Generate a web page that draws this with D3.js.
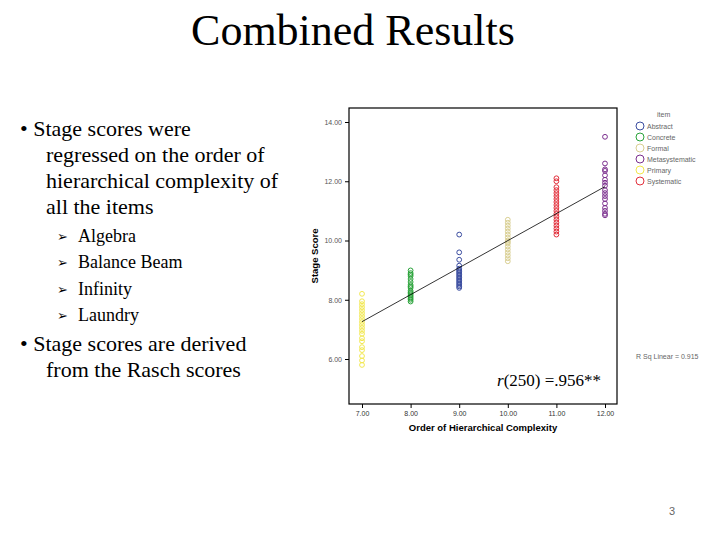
<!DOCTYPE html>
<html><head><meta charset="utf-8">
<script src="https://cdn.jsdelivr.net/npm/d3@7"></script>
<style>body{margin:0;background:#fff}</style></head>
<body><svg id="c" width="720" height="540"></svg>
<script>
const categories = ["Abstract","Concrete","Formal","Metasystematic","Primary","Systematic"];
const colors = ["#3b4da0","#2aa33a","#d9cf92","#7b2f8e","#f2e84e","#e2303c"];
const orders = [9,8,10,12,7,11];
const abstractVals = [10.2,9.6,9.35,9.15,9.05,9.0,8.95,8.9,8.85,8.8,8.75,8.7,8.65,8.6,8.55,8.5,8.45,8.4];
const concreteVals = [8.99,8.9,8.85,8.8,8.7,8.6,8.5,8.45,8.4,8.3,8.25,8.2,8.15,8.1,8.05,8.0,7.94];
const formalVals = [10.7,10.6,10.5,10.4,10.3,10.2,10.1,10.0,9.95,9.9,9.8,9.7,9.6,9.5,9.4,9.3];
const metaVals = [13.5,12.6,12.4,12.35,12.2,12.05,11.95,11.85,11.7,11.6,11.5,11.4,11.25,11.1,11.0,10.9,10.85];
const primaryVals = [8.2,7.95,7.85,7.75,7.65,7.55,7.45,7.35,7.25,7.15,7.05,6.95,6.85,6.7,6.6,6.4,6.3,6.1,5.95,5.8];
const systematicVals = [12.1,12.0,11.8,11.7,11.6,11.5,11.4,11.3,11.2,11.1,11.0,10.9,10.8,10.7,10.6,10.5,10.4,10.3,10.2];
const seriesVals = [abstractVals,concreteVals,formalVals,metaVals,primaryVals,systematicVals];
const xTicks = [7,8,9,10,11,12];
const yTicks = [6,8,10,12,14];
const fit = [[7,7.26],[12,11.82]];

const svg = d3.select("#c");
const serif = "'Liberation Serif','Times New Roman',serif";
const sans = "'Liberation Sans',Arial,sans-serif";
svg.append("text").attr("x",353).attr("y",45).attr("text-anchor","middle")
  .attr("font-family",serif).attr("font-size",44).text("Combined Results");
const lines = [
 {t:"• Stage scores were",x:20,y:136,s:22},
 {t:"regressed on the order of",x:46,y:162,s:22},
 {t:"hierarchical complexity of",x:46,y:188,s:22},
 {t:"all the items",x:46,y:214,s:22},
 {t:"• Stage scores are derived",x:20,y:351,s:22},
 {t:"from the Rasch scores",x:46,y:377,s:22}];
lines.forEach(l=>svg.append("text").attr("x",l.x).attr("y",l.y).attr("font-family",serif).attr("font-size",l.s).text(l.t));
["Algebra","Balance Beam","Infinity","Laundry"].forEach((t,i)=>{
  svg.append("text").attr("x",57).attr("y",241+i*26.3).attr("font-family","'DejaVu Sans'").attr("font-size",13).text("➢");
  svg.append("text").attr("x",78).attr("y",242+i*26.3).attr("font-family",serif).attr("font-size",18).text(t);
});

const x = d3.scaleLinear().domain([7,12]).range([362,605]);
const y = d3.scaleLinear().domain([6,14]).range([359,122]);
const L=349,R=617,T=108,B=404;
svg.append("rect").attr("x",L).attr("y",T).attr("width",R-L).attr("height",B-T).attr("fill","none").attr("stroke","#000").attr("stroke-width",1.2);
const xa = svg.append("g").attr("transform",`translate(0,${B})`)
  .call(d3.axisBottom(x).tickValues(xTicks).tickFormat(d3.format(".2f")).tickSize(4));
xa.select(".domain").remove();
xa.selectAll("text").attr("font-family",sans).attr("font-size",7).attr("fill","#333");
const ya = svg.append("g").attr("transform",`translate(${L},0)`)
  .call(d3.axisLeft(y).tickValues(yTicks).tickFormat(d3.format(".2f")).tickSize(4));
ya.select(".domain").remove();
ya.selectAll("text").attr("font-family",sans).attr("font-size",7).attr("fill","#555");
svg.append("text").attr("x",483).attr("y",431).attr("text-anchor","middle").attr("font-family",sans)
  .attr("font-weight","bold").attr("font-size",9.5).text("Order of Hierarchical Complexity");
svg.append("text").attr("transform","translate(318,256) rotate(-90)").attr("text-anchor","middle")
  .attr("font-family",sans).attr("font-weight","bold").attr("font-size",9.5).text("Stage Score");

seriesVals.forEach((vals,i)=>{
  svg.append("g").selectAll("circle").data(vals).join("circle")
    .attr("cx",x(orders[i])).attr("cy",d=>y(d)).attr("r",2.4)
    .attr("fill","none").attr("stroke",colors[i]).attr("stroke-width",1);
});
svg.append("line").attr("x1",x(fit[0][0])).attr("y1",y(fit[0][1])).attr("x2",x(fit[1][0])).attr("y2",y(fit[1][1]))
  .attr("stroke","#000").attr("stroke-width",0.8);
svg.append("text").attr("x",497).attr("y",386).attr("font-family",serif).attr("font-size",17)
  .html('<tspan font-style="italic">r</tspan>(250) =.956**');

svg.append("text").attr("x",657).attr("y",117).attr("font-family",sans).attr("font-size",7).attr("fill","#666").text("item");
categories.forEach((c,i)=>{
  const yy=126+i*11;
  svg.append("circle").attr("cx",640).attr("cy",yy).attr("r",4).attr("fill","none").attr("stroke",colors[i]);
  svg.append("text").attr("x",647).attr("y",yy+3).attr("font-family",sans).attr("font-size",7).attr("fill","#666").text(c);
});
svg.append("text").attr("x",636).attr("y",359).attr("font-family",sans).attr("font-size",7).attr("fill","#666").text("R Sq Linear = 0.915");
svg.append("text").attr("x",672).attr("y",515).attr("text-anchor","middle").attr("font-family",sans).attr("font-size",11).attr("fill","#666").text("3");
</script></body></html>
